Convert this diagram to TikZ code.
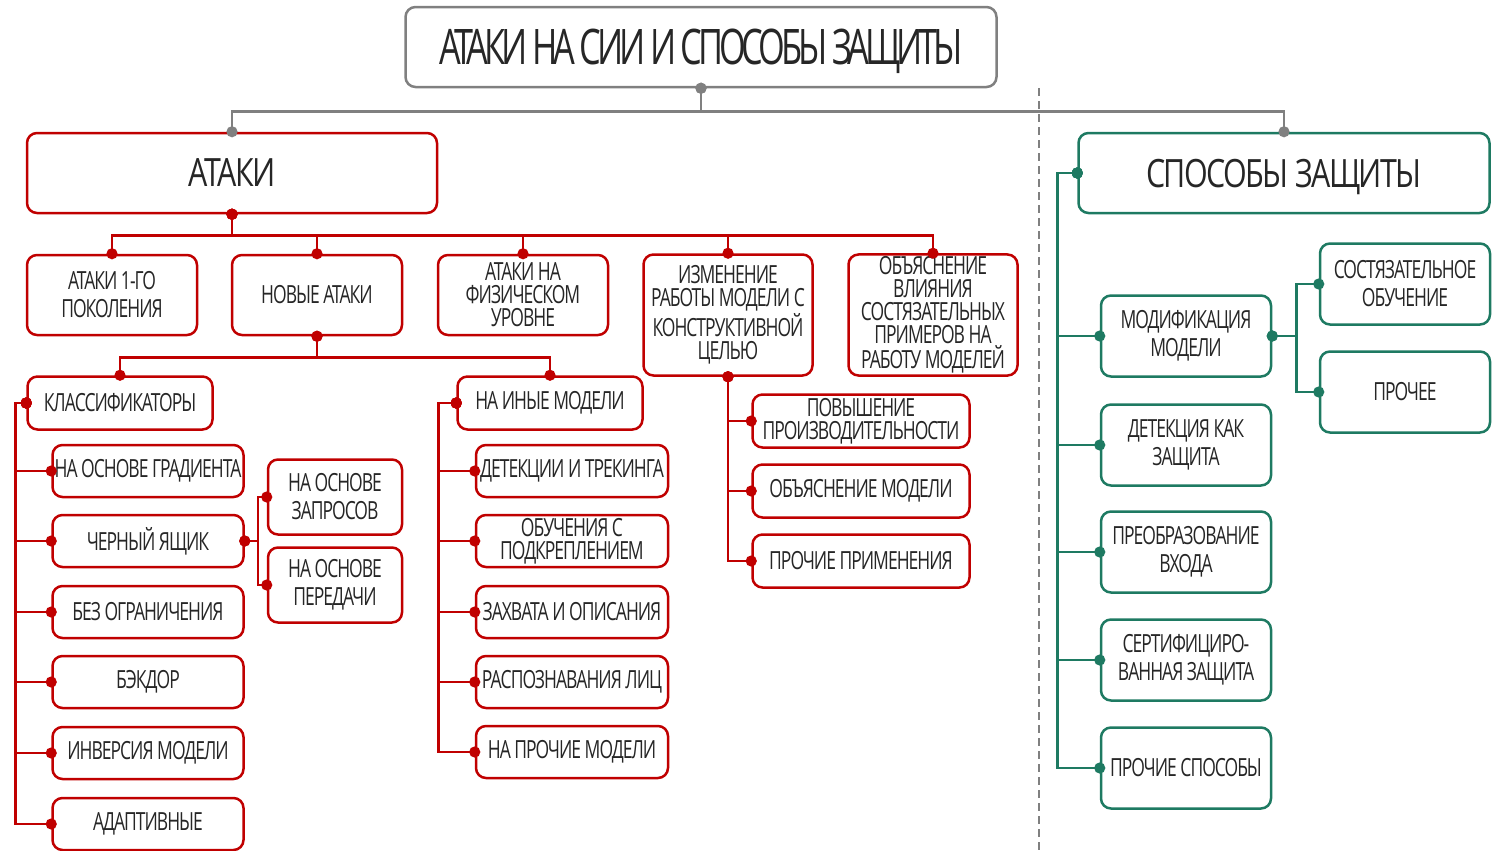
\documentclass[tikz,border=0pt]{standalone}
\usepackage{fontspec}
\setmainfont[FakeStretch=0.70,LetterSpace=-4]{Open Sans}
\newfontfamily\headfont[FakeStretch=0.78,LetterSpace=-4]{Open Sans}
\newfontfamily\titlefont[FakeStretch=0.70,LetterSpace=-8.5]{Open Sans}
\usetikzlibrary{arrows.meta}

\definecolor{atkred}{RGB}{192,0,0}
\definecolor{defgreen}{RGB}{30,122,98}
\definecolor{linegray}{RGB}{128,128,128}
\definecolor{txt}{RGB}{38,38,38}

\begin{document}
\begin{tikzpicture}[x=0.5pt,y=-0.5pt,
  box/.style={draw, rounded corners=5pt, line width=1.25pt, fill=white, align=center,
    text=txt, inner sep=1pt, font=\fontsize{12.5}{14}\selectfont},
  tight/.style={font=\fontsize{12.5}{11.5}\selectfont},
  head/.style={font=\headfont\fontsize{19.5}{22}\selectfont, text depth=0pt},
  redbox/.style={box, draw=atkred},
  greenbox/.style={box, draw=defgreen},
  graybox/.style={box, draw=linegray},
  link/.style={line width=1.25pt, {Circle[length=5.5pt]}-{Circle[length=5.5pt]},
    shorten <=-2.75pt, shorten >=-2.75pt},
  redlink/.style={link, draw=atkred},
  greenlink/.style={link, draw=defgreen},
  graylink/.style={link, draw=linegray}]
\useasboundingbox (0,0) rectangle (1496,851);

% header
\node[graybox, minimum width=295.5pt, minimum height=40pt, text depth=0pt,
  font=\titlefont\fontsize{24.5}{28}\selectfont] (title) at (701,47) {АТАКИ НА СИИ И СПОСОБЫ ЗАЩИТЫ};
\draw[linegray, line width=0.7pt, dash pattern=on 4pt off 2.5pt] (1039,88) -- (1039,851);

% attacks
\node[redbox, minimum width=205pt, minimum height=40pt, head] (atk) at (232,173) {АТАКИ};
\node[redbox, minimum width=85pt, minimum height=40pt] (gen1) at (112,295) {АТАКИ 1-ГО\\ПОКОЛЕНИЯ};
\node[redbox, minimum width=85pt, minimum height=40pt] (new) at (317,295) {НОВЫЕ АТАКИ};
\node[redbox, minimum width=85pt, minimum height=40pt, tight] (phys) at (523,295) {АТАКИ НА\\ФИЗИЧЕСКОМ\\УРОВНЕ};
\node[redbox, minimum width=84.5pt, minimum height=60.5pt, tight] (change) at (728,315) {ИЗМЕНЕНИЕ\\РАБОТЫ МОДЕЛИ С\\КОНСТРУКТИВНОЙ\\ЦЕЛЬЮ};
\node[redbox, minimum width=84.5pt, minimum height=60.5pt, tight] (expl) at (933,315) {ОБЪЯСНЕНИЕ\\ВЛИЯНИЯ\\СОСТЯЗАТЕЛЬНЫХ\\ПРИМЕРОВ НА\\РАБОТУ МОДЕЛЕЙ};

\node[redbox, minimum width=92.5pt, minimum height=26.5pt] (clf) at (120,403) {КЛАССИФИКАТОРЫ};
\node[redbox, minimum width=95.5pt, minimum height=26pt] (grad) at (148,471) {НА ОСНОВЕ ГРАДИЕНТА};
\node[redbox, minimum width=95.5pt, minimum height=26pt] (bbox) at (148,541) {ЧЕРНЫЙ ЯЩИК};
\node[redbox, minimum width=95.5pt, minimum height=26pt] (nolim) at (148,612) {БЕЗ ОГРАНИЧЕНИЯ};
\node[redbox, minimum width=95.5pt, minimum height=26pt] (bkdr) at (148,682) {БЭКДОР};
\node[redbox, minimum width=95.5pt, minimum height=26pt] (inv) at (148,753) {ИНВЕРСИЯ МОДЕЛИ};
\node[redbox, minimum width=95.5pt, minimum height=26pt] (adapt) at (148,824) {АДАПТИВНЫЕ};
\node[redbox, minimum width=67pt, minimum height=37.5pt] (query) at (335,497) {НА ОСНОВЕ\\ЗАПРОСОВ};
\node[redbox, minimum width=67pt, minimum height=37.5pt] (trans) at (335,585) {НА ОСНОВЕ\\ПЕРЕДАЧИ};

\node[redbox, minimum width=92.5pt, minimum height=26.5pt] (other) at (550,403) {НА ИНЫЕ МОДЕЛИ};
\node[redbox, minimum width=96pt, minimum height=26pt] (track) at (572,471) {ДЕТЕКЦИИ И ТРЕКИНГА};
\node[redbox, minimum width=96pt, minimum height=26pt, tight] (rl) at (572,541) {ОБУЧЕНИЯ С\\ПОДКРЕПЛЕНИЕМ};
\node[redbox, minimum width=96pt, minimum height=26pt] (capt) at (572,612) {ЗАХВАТА И ОПИСАНИЯ};
\node[redbox, minimum width=96pt, minimum height=26pt] (face) at (572,682) {РАСПОЗНАВАНИЯ ЛИЦ};
\node[redbox, minimum width=96pt, minimum height=26pt] (rest) at (572,752) {НА ПРОЧИЕ МОДЕЛИ};

\node[redbox, minimum width=108.5pt, minimum height=26.5pt, tight] (perf) at (861,421) {ПОВЫШЕНИЕ\\ПРОИЗВОДИТЕЛЬНОСТИ};
\node[redbox, minimum width=108.5pt, minimum height=26.5pt] (xai) at (861,491) {ОБЪЯСНЕНИЕ МОДЕЛИ};
\node[redbox, minimum width=108.5pt, minimum height=26.5pt] (apps) at (861,561) {ПРОЧИЕ ПРИМЕНЕНИЯ};

% defences
\node[greenbox, minimum width=205.5pt, minimum height=40pt, head] (def) at (1284,173) {СПОСОБЫ ЗАЩИТЫ};
\node[greenbox, minimum width=85pt, minimum height=40.5pt] (modif) at (1186,336) {МОДИФИКАЦИЯ\\МОДЕЛИ};
\node[greenbox, minimum width=85pt, minimum height=40.5pt] (detect) at (1186,445) {ДЕТЕКЦИЯ КАК\\ЗАЩИТА};
\node[greenbox, minimum width=85pt, minimum height=40.5pt] (input) at (1186,552) {ПРЕОБРАЗОВАНИЕ\\ВХОДА};
\node[greenbox, minimum width=85pt, minimum height=40.5pt] (cert) at (1186,660) {СЕРТИФИЦИРО-\\ВАННАЯ ЗАЩИТА};
\node[greenbox, minimum width=85pt, minimum height=40.5pt] (misc) at (1186,768) {ПРОЧИЕ СПОСОБЫ};
\node[greenbox, minimum width=85pt, minimum height=40.5pt] (advtr) at (1405,284) {СОСТЯЗАТЕЛЬНОЕ\\ОБУЧЕНИЕ};
\node[greenbox, minimum width=85pt, minimum height=40.5pt] (else) at (1405,392) {ПРОЧЕЕ};

% connectors
\draw[graylink] (title.south) -- ++(0,23) -| (atk.north);
\draw[graylink] (title.south) -- ++(0,23) -| (def.north);

\foreach \n in {gen1,new,phys,change,expl}
  \draw[redlink] (atk.south) -- ++(0,21) -| (\n.north);
\foreach \n in {clf,other}
  \draw[redlink] (new.south) -- ++(0,21) -| (\n.north);
\foreach \n in {grad,bbox,nolim,bkdr,inv,adapt}
  \draw[redlink] (clf.west) -- ++(-11,0) |- (\n.west);
\foreach \n in {query,trans}
  \draw[redlink] (bbox.east) -- ++(13,0) |- (\n.west);
\foreach \n in {track,rl,capt,face,rest}
  \draw[redlink] (other.west) -- ++(-18,0) |- (\n.west);
\foreach \n in {perf,xai,apps}
  \draw[redlink] (change.south) |- (\n.west);

\foreach \n in {modif,detect,input,cert,misc}
  \draw[greenlink] (def.west) -- ++(-20,0) |- (\n.west);
\foreach \n in {advtr,else}
  \draw[greenlink] (modif.east) -- ++(24,0) |- (\n.west);
\end{tikzpicture}
\end{document}
